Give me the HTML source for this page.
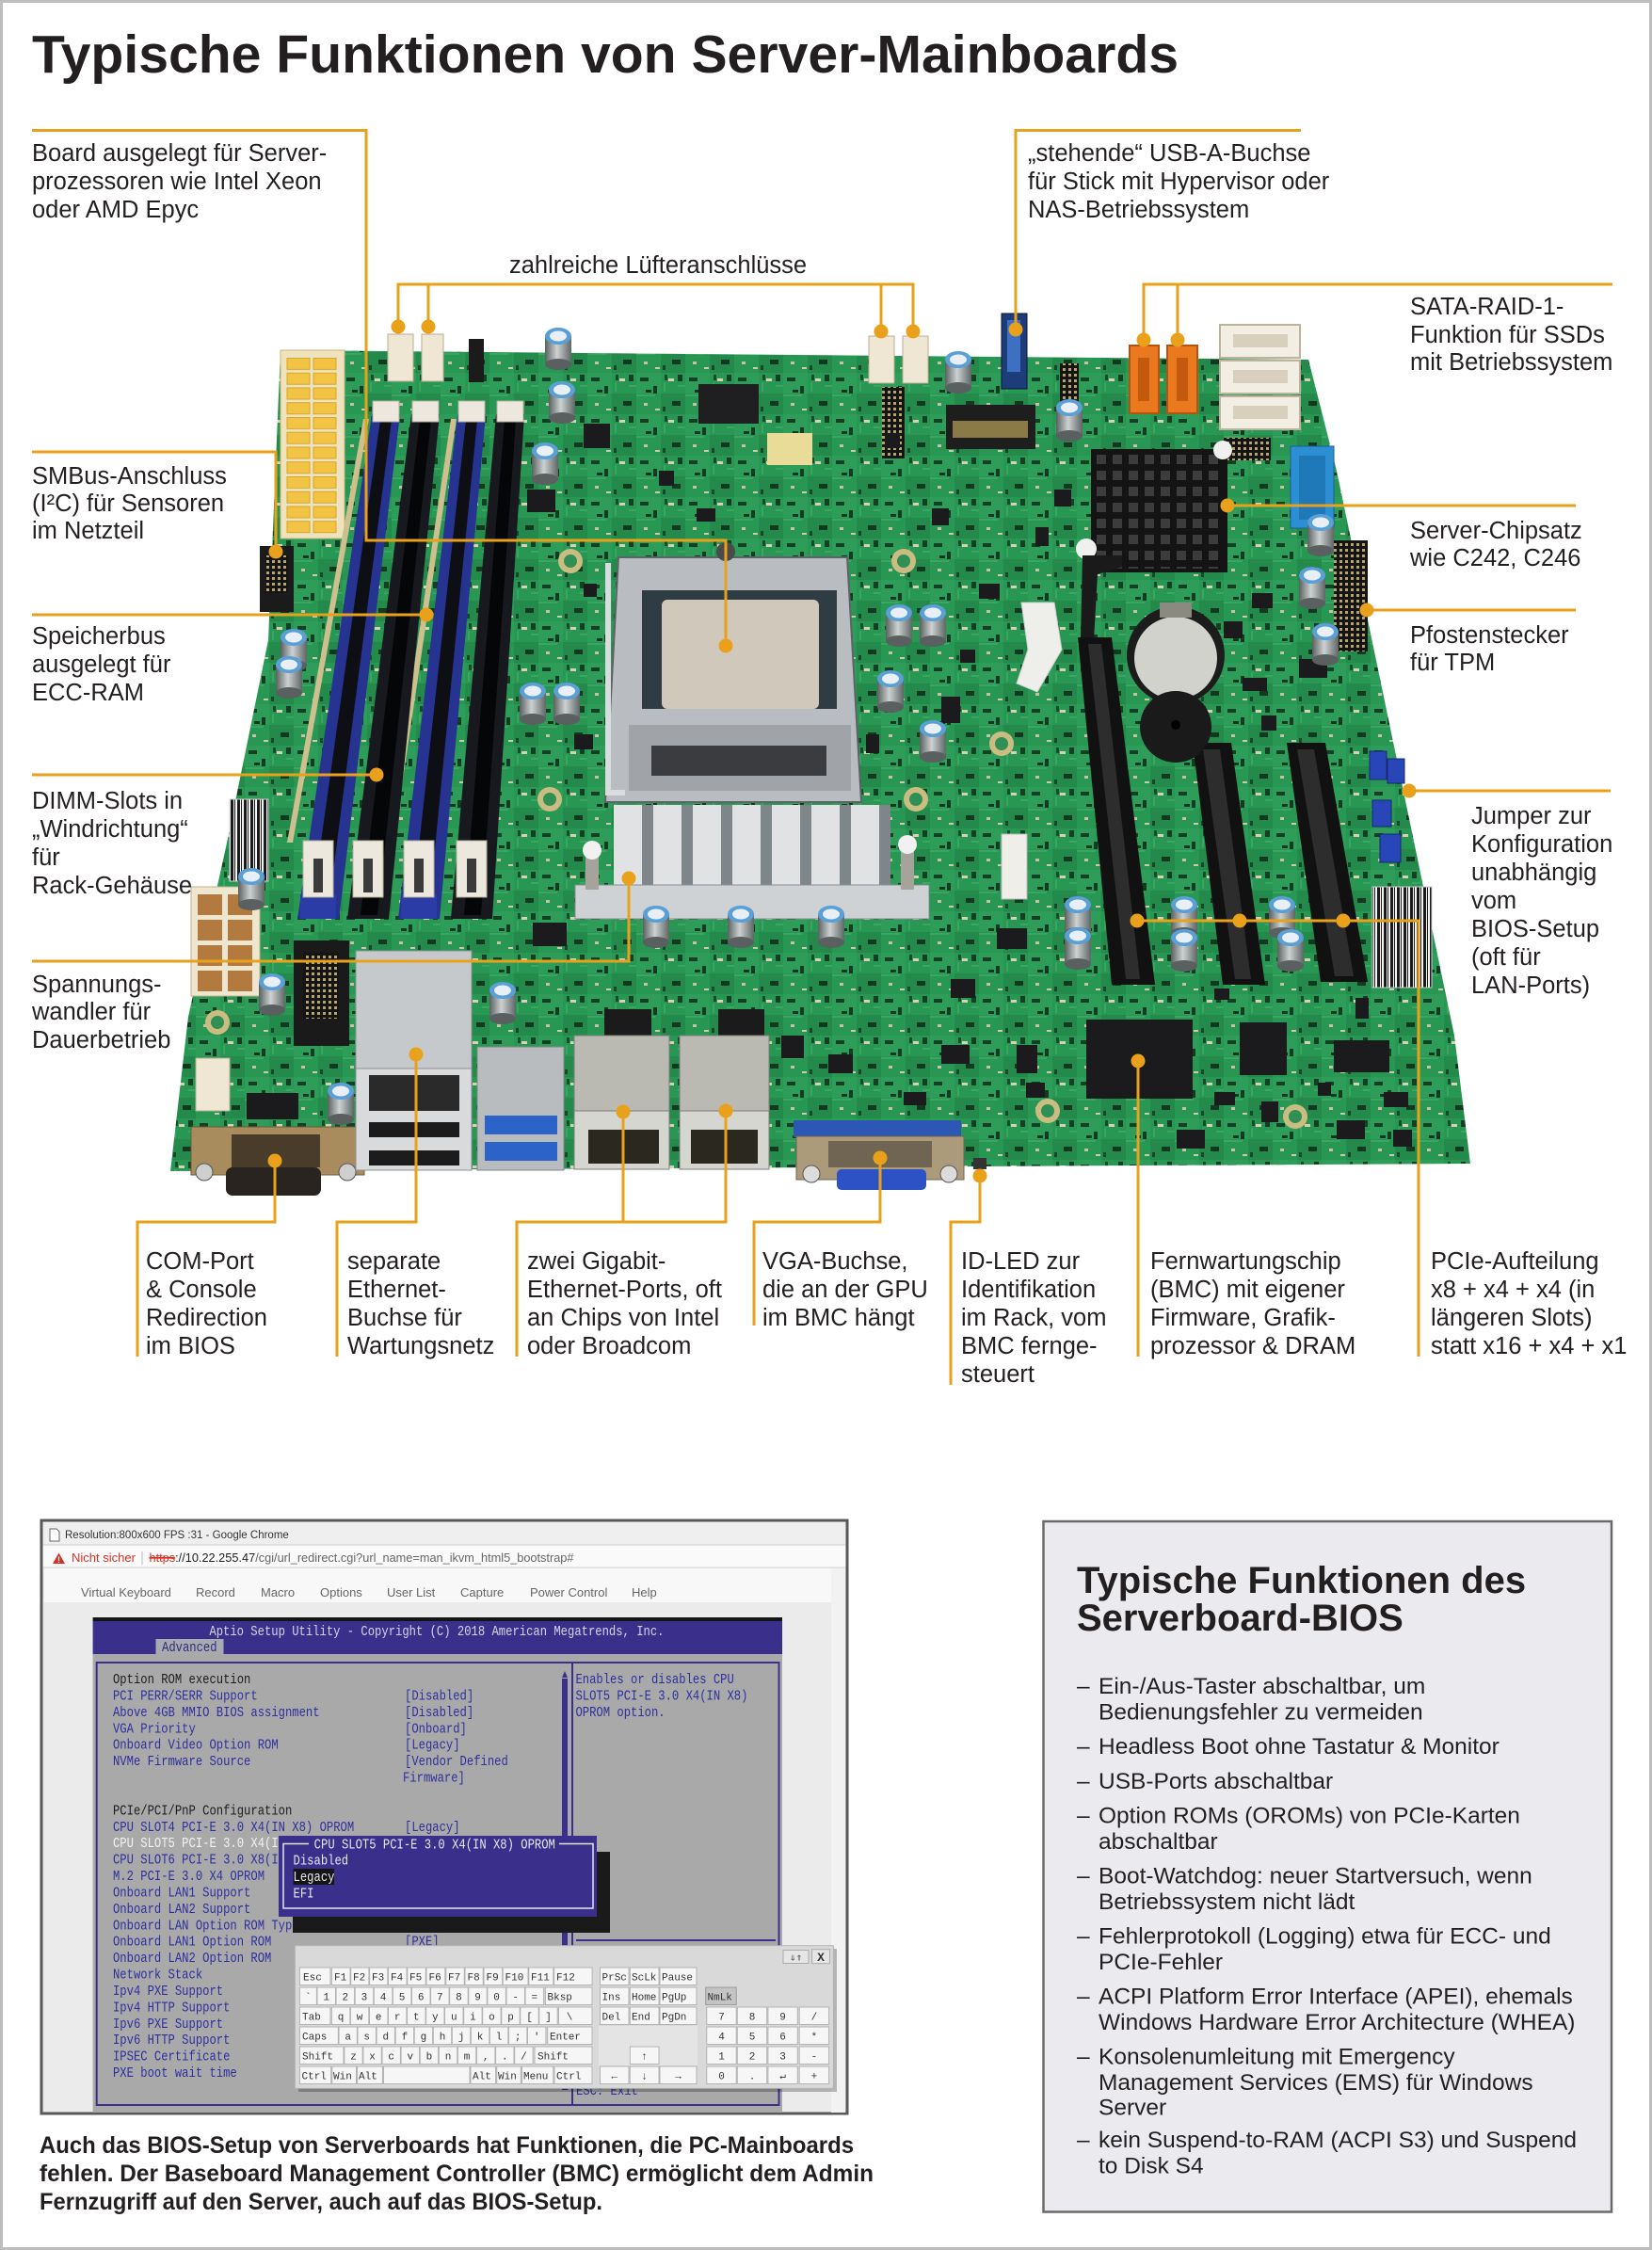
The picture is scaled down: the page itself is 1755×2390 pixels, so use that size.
<!DOCTYPE html>
<html lang="de"><head><meta charset="utf-8"><title>Typische Funktionen von Server-Mainboards</title>
<style>html,body{margin:0;padding:0;background:#fff}svg{display:block}</style></head>
<body>
<svg xmlns="http://www.w3.org/2000/svg" xmlns:xlink="http://www.w3.org/1999/xlink" width="1755" height="2390" viewBox="0 0 1755 2390">
<defs>
 <pattern id="pcb" x="0" y="0" width="52" height="44" patternUnits="userSpaceOnUse">
  <rect width="52" height="44" fill="#289753"/>
  <rect x="0" y="0" width="26" height="22" fill="#2d9d59"/>
  <rect x="26" y="22" width="26" height="22" fill="#238a4b"/>
  <rect x="4" y="5" width="9" height="4" fill="#143f24"/>
  <rect x="18" y="14" width="4" height="8" fill="#123b21"/>
  <rect x="34" y="6" width="6" height="3" fill="#d8cfb5"/>
  <rect x="38" y="30" width="9" height="5" fill="#12391f"/>
  <rect x="8" y="32" width="4" height="3" fill="#c8c0a8"/>
  <rect x="28" y="36" width="3" height="5" fill="#17462a"/>
  <rect x="44" y="2" width="5" height="7" fill="#153f25"/>
  <rect x="10" y="18" width="6" height="3" fill="#103820"/>
  <rect x="30" y="2" width="3" height="6" fill="#1a4a2c"/>
  <rect x="20" y="38" width="5" height="2" fill="#cfc7ad"/>
  <path d="M0,24 H20 M30,10 V20 M44,14 H52" stroke="#4cb472" stroke-width="1"/>
 </pattern>
 <pattern id="atx" x="304" y="379" width="28" height="15.75" patternUnits="userSpaceOnUse">
  <rect x="1" y="1.5" width="24" height="12" fill="#f3c443" stroke="#d5a52c" stroke-width="1"/>
 </pattern>
 <pattern id="fins" x="652" y="855" width="42" height="90" patternUnits="userSpaceOnUse">
  <rect x="0" y="0" width="30" height="90" fill="#e0e2e4"/>
  <rect x="30" y="0" width="12" height="90" fill="#7f868a"/>
 </pattern>
 <pattern id="hs" x="1163" y="481" width="17" height="17" patternUnits="userSpaceOnUse">
  <rect x="2" y="2" width="10" height="10" fill="#3c3c3c"/>
 </pattern>
 <pattern id="pins" x="0" y="0" width="6" height="6" patternUnits="userSpaceOnUse">
  <rect width="6" height="6" fill="#141414"/><rect x="1" y="1" width="3" height="3" fill="#b7a46a"/>
 </pattern>
 <pattern id="bar" x="0" y="0" width="7" height="4" patternUnits="userSpaceOnUse">
  <rect width="7" height="4" fill="#f4f4f4"/><rect x="0" y="0" width="3" height="4" fill="#1a1a1a"/><rect x="4" width="1" height="4" fill="#1a1a1a"/>
 </pattern>
 <linearGradient id="capg" x1="0" x2="1" y1="0" y2="0">
  <stop offset="0" stop-color="#59615f"/><stop offset="0.45" stop-color="#cdd1d1"/><stop offset="1" stop-color="#5e6666"/>
 </linearGradient>
 <g id="cap">
  <rect x="-14" y="9" width="28" height="30" fill="url(#capg)"/>
  <ellipse cx="0" cy="39" rx="14" ry="6" fill="#59605f"/>
  <ellipse cx="0" cy="9" rx="14" ry="9" fill="#5a9fd6"/>
  <ellipse cx="0" cy="9" rx="9" ry="5.5" fill="#e8eff7"/>
 </g>
 <g id="hole">
  <circle r="13" fill="#cbbd82"/><circle r="7" fill="#2f8f55"/>
 </g>
</defs>

<rect x="1.5" y="1.5" width="1752" height="2387" fill="#fff" stroke="#bdbdbd" stroke-width="3"/>

<text x="34" y="77" font-family="Liberation Sans, Arial, sans-serif" font-weight="bold" font-size="57" textLength="1218" lengthAdjust="spacingAndGlyphs" fill="#231f20">Typische Funktionen von Server-Mainboards</text>

<!-- ============ BOARD ============ -->
<g id="board">
 <polygon points="298,372 1390,382 1420,500 1545,1100 1562,1236 181,1244 200,1080 240,900 285,680" fill="url(#pcb)"/>
 <!-- mounting holes -->
 <use xlink:href="#hole" x="606" y="596"/><use xlink:href="#hole" x="960" y="596"/>
 <use xlink:href="#hole" x="584" y="849"/><use xlink:href="#hole" x="973" y="849"/>
 <use xlink:href="#hole" x="1113" y="1180"/><use xlink:href="#hole" x="1376" y="1186"/>
 <use xlink:href="#hole" x="231" y="1086"/><use xlink:href="#hole" x="1064" y="790"/>

 <!-- ATX 24 pin -->
 <rect x="298" y="372" width="68" height="200" fill="#efe3bd" stroke="#c8b47a"/>
 <rect x="304" y="379" width="56" height="189" fill="url(#atx)"/>

 <!-- fan headers / top connectors -->
 <rect x="412" y="355" width="27" height="50" fill="#efe7d3" stroke="#b9ad8f"/>
 <rect x="448" y="355" width="23" height="50" fill="#efe7d3" stroke="#b9ad8f"/>
 <rect x="923" y="357" width="27" height="50" fill="#efe7d3" stroke="#b9ad8f"/>
 <rect x="959" y="357" width="27" height="50" fill="#efe7d3" stroke="#b9ad8f"/>
 <rect x="498" y="360" width="16" height="46" fill="#1b1b1b"/>
 <rect x="937" y="411" width="24" height="76" fill="url(#pins)"/>
 <rect x="1064" y="333" width="27" height="80" fill="#1d3c7a" stroke="#0d1a33"/>
 <rect x="1070" y="340" width="14" height="55" fill="#3f6fc0"/>
 <rect x="1126" y="386" width="20" height="60" fill="url(#pins)"/>
 <rect x="742" y="408" width="64" height="42" fill="#1f1f21"/>
 <rect x="1005" y="430" width="95" height="47" fill="#1e1e1e"/>
 <rect x="1012" y="447" width="80" height="18" fill="#8a7a48"/>

 <!-- SATA -->
 <rect x="1296" y="345" width="85" height="35" fill="#f2eee3" stroke="#bdb39a" stroke-width="2"/>
 <rect x="1296" y="383" width="85" height="35" fill="#f2eee3" stroke="#bdb39a" stroke-width="2"/>
 <rect x="1296" y="421" width="85" height="35" fill="#f2eee3" stroke="#bdb39a" stroke-width="2"/>
 <rect x="1310" y="355" width="58" height="14" fill="#d8d0bc"/>
 <rect x="1310" y="393" width="58" height="14" fill="#d8d0bc"/>
 <rect x="1310" y="431" width="58" height="14" fill="#d8d0bc"/>
 <rect x="1200" y="367" width="31" height="72" fill="#ea781e" stroke="#b55410" stroke-width="2"/>
 <rect x="1240" y="367" width="32" height="72" fill="#ea781e" stroke="#b55410" stroke-width="2"/>
 <rect x="1209" y="380" width="12" height="46" fill="#c45a0e"/>
 <rect x="1250" y="380" width="12" height="46" fill="#c45a0e"/>
 <rect x="1300" y="465" width="50" height="24" fill="url(#pins)"/>
 <rect x="1371" y="474" width="46" height="87" fill="#2c8fd3" stroke="#1a5f95"/>
 <rect x="1380" y="484" width="28" height="68" fill="#1f78b8"/>

 <!-- chipset heatsink -->
 <rect x="1159" y="477" width="145" height="131" fill="#141414"/>
 <rect x="1163" y="481" width="137" height="123" fill="url(#hs)"/>
 <circle cx="1154" cy="583" r="11" fill="#f0f0ee"/>
 <circle cx="1299" cy="478" r="10" fill="#f0f0ee"/>

 <!-- DIMM slots -->
 <polygon points="386,445 392,445 311,895 305,895" fill="#cdbf8e"/>
 <polygon points="479,445 485,445 418,895 412,895" fill="#cdbf8e"/>
 <polygon points="395,440 425,440 360,976 316,976" fill="#263390"/>
 <polygon points="404,446 416,446 348,972 330,972" fill="#0d0f14"/>
 <polygon points="437,440 467,440 413,976 369,976" fill="#17191e"/>
 <polygon points="446,446 458,446 401,972 383,972" fill="#050608"/>
 <polygon points="486,440 516,440 467,976 423,976" fill="#263390"/>
 <polygon points="495,446 507,446 455,972 437,972" fill="#0d0f14"/>
 <polygon points="527,440 557,440 523,976 479,976" fill="#17191e"/>
 <polygon points="536,446 548,446 511,972 493,972" fill="#050608"/>
 <g fill="#ece8de" stroke="#b8b09e">
  <rect x="396" y="426" width="28" height="22"/><rect x="438" y="426" width="28" height="22"/>
  <rect x="487" y="426" width="28" height="22"/><rect x="528" y="426" width="28" height="22"/>
 </g>
 <rect x="319" y="950" width="38" height="26" fill="#2b3ca6"/>
 <rect x="426" y="950" width="38" height="26" fill="#2b3ca6"/>
 <g fill="#ece8de" stroke="#b8b09e">
  <rect x="322" y="893" width="32" height="60"/><rect x="375" y="893" width="32" height="60"/>
  <rect x="429" y="893" width="32" height="60"/><rect x="485" y="893" width="32" height="60"/>
 </g>
 <g fill="#3a3a3a">
  <rect x="333" y="912" width="10" height="36"/><rect x="386" y="912" width="10" height="36"/>
  <rect x="440" y="912" width="10" height="36"/><rect x="496" y="912" width="10" height="36"/>
 </g>

 <!-- left side parts -->
 <rect x="276" y="580" width="36" height="70" fill="#1b1b1b"/>
 <rect x="282" y="590" width="24" height="40" fill="url(#pins)"/>
 <rect x="244" y="849" width="41" height="87" fill="url(#bar)" stroke="#ccc"/>
 <rect x="203" y="942" width="73" height="116" fill="#efe6d0" stroke="#bfae8c"/>
 <g fill="#b27a3e"><rect x="210" y="950" width="26" height="22"/><rect x="242" y="950" width="26" height="22"/>
 <rect x="210" y="977" width="26" height="22"/><rect x="242" y="977" width="26" height="22"/>
 <rect x="210" y="1004" width="26" height="22"/><rect x="242" y="1004" width="26" height="22"/>
 <rect x="210" y="1031" width="26" height="22"/><rect x="242" y="1031" width="26" height="22"/></g>
 <rect x="312" y="999" width="59" height="112" fill="#1a1a1a"/>
 <rect x="322" y="1012" width="38" height="70" fill="url(#pins)"/>
 <rect x="208" y="1124" width="36" height="56" fill="#efe7d3" stroke="#b9ad8f"/>

 <!-- CPU socket -->
 <path d="M657,592 L900,592 L915,852 L643,852 Z" fill="#b9bdc1" stroke="#5f6368" stroke-width="2"/>
 <rect x="682" y="627" width="207" height="126" fill="#2f3c43"/>
 <rect x="703" y="637" width="167" height="116" rx="6" fill="#d0c9bb"/>
 <rect x="668" y="770" width="236" height="70" fill="#a0a4a8"/>
 <rect x="692" y="792" width="186" height="32" fill="#3a3c40"/>
 <path d="M646,598 V842 H664" fill="none" stroke="#d9dcdf" stroke-width="6"/>
 <circle cx="771" cy="586" r="10" fill="#4a4a4a"/>

 <!-- VRM heatsink -->
 <rect x="652" y="855" width="294" height="88" fill="url(#fins)"/>
 <rect x="611" y="940" width="376" height="36" fill="#cfd2d5" stroke="#8a8e92"/>
 <rect x="622" y="905" width="14" height="40" fill="#a6a39a"/><circle cx="629" cy="903" r="10" fill="#f1f1f1"/>
 <rect x="957" y="900" width="14" height="45" fill="#a6a39a"/><circle cx="964" cy="897" r="10" fill="#f1f1f1"/>

 <!-- white plastic parts -->
 <path d="M1085,640 L1120,640 L1128,690 L1102,735 L1080,726 L1092,690 Z" fill="#eeeeea" stroke="#cfcfc8"/>
 <rect x="1064" y="886" width="27" height="69" fill="#efeee8" stroke="#bbb"/>

 <!-- PCIe slots -->
 <path d="M1150,590 L1192,590 L1192,602 L1166,610 L1162,680 L1148,680 Z" fill="#1a1a1a"/>
 <polygon points="1145,677 1181,677 1227,1046 1181,1046" fill="#111"/>
 <polygon points="1156,684 1170,684 1211,1040 1196,1040" fill="#2d2d2d"/>
 <polygon points="1267,789 1308,789 1344,1046 1299,1046" fill="#111"/>
 <polygon points="1278,796 1296,796 1329,1040 1312,1040" fill="#2d2d2d"/>
 <polygon points="1367,789 1408,789 1453,1043 1403,1043" fill="#111"/>
 <polygon points="1378,796 1396,796 1438,1037 1418,1037" fill="#2d2d2d"/>

 <!-- battery & buzzer -->
 <circle cx="1249" cy="696" r="52" fill="#1c1c1c"/>
 <circle cx="1249" cy="699" r="44" fill="#d2d2cc"/>
 <rect x="1232" y="640" width="34" height="16" fill="#8a8a80"/>
 <circle cx="1249" cy="772" r="38" fill="#1a1a1a"/>
 <circle cx="1249" cy="770" r="5" fill="#000"/>

 <!-- right side -->
 <rect x="1417" y="574" width="36" height="118" fill="url(#pins)"/>
 <g fill="#2946b8" stroke="#17286e">
  <rect x="1455" y="798" width="18" height="30"/><rect x="1474" y="806" width="18" height="26"/>
  <rect x="1458" y="850" width="20" height="28"/><rect x="1466" y="886" width="22" height="30"/>
 </g>
 <rect x="1458" y="942" width="63" height="107" fill="url(#bar)" stroke="#ccc"/>

 <!-- small chips -->
 <g fill="#1b1b1d">
  <rect x="566" y="980" width="36" height="25"/><rect x="1059" y="986" width="32" height="22"/>
  <rect x="1317" y="1086" width="50" height="56"/><rect x="1417" y="1105" width="59" height="34"/>
  <rect x="262" y="1161" width="55" height="28"/><rect x="1000" y="740" width="20" height="28"/>
  <rect x="1300" y="660" width="20" height="18"/><rect x="1380" y="700" width="30" height="20"/>
  <rect x="830" y="1100" width="24" height="24"/><rect x="880" y="1120" width="26" height="20"/>
  <rect x="1000" y="1110" width="30" height="20"/><rect x="1080" y="1110" width="22" height="30"/>
  <rect x="1250" y="1200" width="30" height="20"/><rect x="1420" y="1190" width="30" height="20"/>
  <rect x="940" y="460" width="16" height="16"/><rect x="700" y="500" width="16" height="16"/>
  <rect x="620" y="450" width="28" height="26"/><rect x="560" y="520" width="30" height="24"/>
  <rect x="1120" y="520" width="18" height="18"/><rect x="1330" y="630" width="22" height="16"/>
  <rect x="740" y="540" width="20" height="14"/><rect x="990" y="540" width="18" height="18"/>
  <rect x="1040" y="620" width="22" height="16"/><rect x="1010" y="1040" width="26" height="20"/>
  <rect x="1290" y="1160" width="22" height="14"/><rect x="1340" y="1170" width="18" height="22"/>
  <rect x="1470" y="1160" width="26" height="16"/><rect x="1400" y="1150" width="14" height="14"/>
  <rect x="1290" y="1050" width="16" height="12"/><rect x="1480" y="1200" width="20" height="18"/>
  <rect x="1440" y="1060" width="14" height="22"/><rect x="1320" y="720" width="26" height="14"/>
  <rect x="1340" y="760" width="16" height="16"/><rect x="1090" y="1150" width="20" height="16"/>
  <rect x="960" y="1160" width="24" height="14"/><rect x="1100" y="560" width="14" height="20"/>
  <rect x="620" y="620" width="14" height="14"/><rect x="610" y="780" width="20" height="16"/>
  <rect x="920" y="780" width="14" height="20"/><rect x="1020" y="690" width="16" height="14"/>
 </g>
 <rect x="815" y="460" width="48" height="34" fill="#e8dc98"/>
 <rect x="1154" y="1083" width="113" height="84" fill="#1b1b1d"/>

 <!-- capacitors -->
 <use xlink:href="#cap" x="593" y="348"/><use xlink:href="#cap" x="597" y="405"/>
 <use xlink:href="#cap" x="579" y="470"/><use xlink:href="#cap" x="312" y="668"/>
 <use xlink:href="#cap" x="307" y="697"/><use xlink:href="#cap" x="566" y="725"/>
 <use xlink:href="#cap" x="602" y="725"/><use xlink:href="#cap" x="955" y="642"/>
 <use xlink:href="#cap" x="991" y="642"/><use xlink:href="#cap" x="946" y="712"/>
 <use xlink:href="#cap" x="991" y="765"/><use xlink:href="#cap" x="1018" y="373"/>
 <use xlink:href="#cap" x="1136" y="424"/><use xlink:href="#cap" x="1403" y="546"/>
 <use xlink:href="#cap" x="1394" y="602"/><use xlink:href="#cap" x="1408" y="662"/>
 <use xlink:href="#cap" x="1145" y="952"/><use xlink:href="#cap" x="1145" y="985"/>
 <use xlink:href="#cap" x="1258" y="952"/><use xlink:href="#cap" x="1258" y="987"/>
 <use xlink:href="#cap" x="1362" y="952"/><use xlink:href="#cap" x="1371" y="987"/>
 <use xlink:href="#cap" x="289" y="1034"/><use xlink:href="#cap" x="534" y="1043"/>
 <use xlink:href="#cap" x="362" y="1150"/><use xlink:href="#cap" x="697" y="962"/>
 <use xlink:href="#cap" x="787" y="962"/><use xlink:href="#cap" x="883" y="962"/>
 <use xlink:href="#cap" x="267" y="922"/>

 <!-- I/O -->
 <rect x="642" y="1072" width="50" height="30" fill="#1b1b1b"/>
 <rect x="763" y="1072" width="49" height="30" fill="#1b1b1b"/>
 <!-- COM -->
 <rect x="203" y="1197" width="184" height="51" fill="#a88c5d" stroke="#6e5a38"/>
 <rect x="246" y="1205" width="94" height="35" fill="#4a3c2b"/>
 <rect x="240" y="1240" width="101" height="30" rx="7" fill="#2a2420"/>
 <circle cx="217" cy="1245" r="9" fill="#cfcfcf" stroke="#555"/>
 <circle cx="369" cy="1245" r="9" fill="#cfcfcf" stroke="#555"/>
 <!-- IPMI LAN + USB -->
 <rect x="378" y="1010" width="123" height="125" fill="#c6c9cb" stroke="#8d9194"/>
 <rect x="378" y="1135" width="123" height="108" fill="#d8dadc" stroke="#8d9194"/>
 <rect x="392" y="1142" width="96" height="38" fill="#2a2a2a"/>
 <rect x="392" y="1192" width="96" height="16" fill="#1c1c1c"/>
 <rect x="392" y="1222" width="96" height="16" fill="#1c1c1c"/>
 <!-- USB3 -->
 <rect x="507" y="1112" width="92" height="131" fill="#b9bcbf" stroke="#80868a"/>
 <rect x="515" y="1185" width="77" height="20" fill="#2b63c9"/>
 <rect x="515" y="1213" width="77" height="20" fill="#2b63c9"/>
 <!-- LAN -->
 <rect x="610" y="1100" width="101" height="80" fill="#babab3" stroke="#7f7f78"/>
 <rect x="610" y="1180" width="101" height="62" fill="#d6d6d0" stroke="#7f7f78"/>
 <rect x="625" y="1200" width="75" height="36" fill="#2b2820"/>
 <rect x="722" y="1100" width="95" height="80" fill="#babab3" stroke="#7f7f78"/>
 <rect x="722" y="1180" width="95" height="62" fill="#d6d6d0" stroke="#7f7f78"/>
 <rect x="734" y="1200" width="71" height="36" fill="#2b2820"/>
 <!-- VGA -->
 <rect x="843" y="1190" width="178" height="18" fill="#2c57b5"/>
 <rect x="846" y="1207" width="178" height="46" fill="#ab9b7b" stroke="#6e6350"/>
 <rect x="880" y="1212" width="110" height="28" fill="#6f6552"/>
 <rect x="889" y="1242" width="95" height="22" rx="5" fill="#2d52c6"/>
 <circle cx="862" cy="1247" r="9" fill="#dcdcdc" stroke="#555"/>
 <circle cx="1008" cy="1247" r="9" fill="#dcdcdc" stroke="#555"/>
 <rect x="1034" y="1230" width="14" height="12" fill="#333"/>
</g>

<!-- ============ CALLOUTS ============ -->
<g fill="none" stroke="#e9a11b" stroke-width="3">
 <path d="M34,138.5 H389 V574 H771 V686"/>
 <path d="M423,347 V302 H970 V352 M455,302 V347 M936,302 V352"/>
 <path d="M1382,138.5 H1079 V350"/>
 <path d="M1713,302 H1215 V361 M1251,302 V361"/>
 <path d="M34,480 H293 V586"/>
 <path d="M34,653 H453"/>
 <path d="M34,823 H400"/>
 <path d="M34,1021 H668 V933"/>
 <path d="M1674,537 H1304"/>
 <path d="M1674,648 H1452"/>
 <path d="M1711,840 H1497"/>
 <path d="M1208,978 H1507 V1441"/>
 <path d="M292,1233 V1298 H146 V1441"/>
 <path d="M442,1120 V1298 H358 V1441"/>
 <path d="M662,1181 V1298 M771,1180 V1298 H549 V1441"/>
 <path d="M935,1230 V1298 H801 V1408"/>
 <path d="M1041,1249 V1298 H1010 V1471"/>
 <path d="M1209,1127 V1441"/>
</g>
<g fill="#e9a11b">
 <circle cx="771" cy="686" r="7.5"/>
 <circle cx="423" cy="347" r="7.5"/><circle cx="455" cy="347" r="7.5"/>
 <circle cx="936" cy="352" r="7.5"/><circle cx="970" cy="352" r="7.5"/>
 <circle cx="1079" cy="350" r="7.5"/>
 <circle cx="1215" cy="361" r="7.5"/><circle cx="1251" cy="361" r="7.5"/>
 <circle cx="293" cy="586" r="7.5"/>
 <circle cx="453" cy="653" r="7.5"/>
 <circle cx="400" cy="823" r="7.5"/>
 <circle cx="668" cy="933" r="7.5"/>
 <circle cx="1304" cy="537" r="7.5"/>
 <circle cx="1452" cy="648" r="7.5"/>
 <circle cx="1497" cy="840" r="7.5"/>
 <circle cx="1208" cy="978" r="7.5"/><circle cx="1317" cy="978" r="7.5"/><circle cx="1427" cy="978" r="7.5"/>
 <circle cx="292" cy="1233" r="7.5"/>
 <circle cx="442" cy="1120" r="7.5"/>
 <circle cx="662" cy="1181" r="7.5"/><circle cx="771" cy="1180" r="7.5"/>
 <circle cx="935" cy="1230" r="7.5"/>
 <circle cx="1041" cy="1249" r="7.5"/>
 <circle cx="1209" cy="1127" r="7.5"/>
</g>

<!-- ============ LABELS ============ -->
<g font-family="Liberation Sans, Arial, sans-serif" font-size="25.5" fill="#231f20">
 <text x="34" y="171">Board ausgelegt für Server-</text>
 <text x="34" y="201">prozessoren wie Intel Xeon</text>
 <text x="34" y="231">oder AMD Epyc</text>

 <text x="541" y="290">zahlreiche Lüfteranschlüsse</text>

 <text x="1092" y="171">„stehende“ USB-A-Buchse</text>
 <text x="1092" y="201">für Stick mit Hypervisor oder</text>
 <text x="1092" y="231">NAS-Betriebssystem</text>

 <text x="1498" y="334">SATA-RAID-1-</text>
 <text x="1498" y="364">Funktion für SSDs</text>
 <text x="1498" y="393">mit Betriebssystem</text>

 <text x="34" y="514">SMBus-Anschluss</text>
 <text x="34" y="543">(I²C) für Sensoren</text>
 <text x="34" y="572">im Netzteil</text>

 <text x="1498" y="572">Server-Chipsatz</text>
 <text x="1498" y="601">wie C242, C246</text>

 <text x="34" y="684">Speicherbus</text>
 <text x="34" y="714">ausgelegt für</text>
 <text x="34" y="744">ECC-RAM</text>

 <text x="1498" y="683">Pfostenstecker</text>
 <text x="1498" y="712">für TPM</text>

 <text x="34" y="859">DIMM-Slots in</text>
 <text x="34" y="889">„Windrichtung“</text>
 <text x="34" y="919">für</text>
 <text x="34" y="949">Rack-Gehäuse</text>

 <text x="1563" y="875">Jumper zur</text>
 <text x="1563" y="905">Konfiguration</text>
 <text x="1563" y="935">unabhängig</text>
 <text x="1563" y="965">vom</text>
 <text x="1563" y="995">BIOS-Setup</text>
 <text x="1563" y="1025">(oft für</text>
 <text x="1563" y="1055">LAN-Ports)</text>

 <text x="34" y="1054">Spannungs-</text>
 <text x="34" y="1083">wandler für</text>
 <text x="34" y="1113">Dauerbetrieb</text>

 <text x="155" y="1348">COM-Port</text>
 <text x="155" y="1378">&amp; Console</text>
 <text x="155" y="1408">Redirection</text>
 <text x="155" y="1438">im BIOS</text>

 <text x="369" y="1348">separate</text>
 <text x="369" y="1378">Ethernet-</text>
 <text x="369" y="1408">Buchse für</text>
 <text x="369" y="1438">Wartungsnetz</text>

 <text x="560" y="1348">zwei Gigabit-</text>
 <text x="560" y="1378">Ethernet-Ports, oft</text>
 <text x="560" y="1408">an Chips von Intel</text>
 <text x="560" y="1438">oder Broadcom</text>

 <text x="810" y="1348">VGA-Buchse,</text>
 <text x="810" y="1378">die an der GPU</text>
 <text x="810" y="1408">im BMC hängt</text>

 <text x="1021" y="1348">ID-LED zur</text>
 <text x="1021" y="1378">Identifikation</text>
 <text x="1021" y="1408">im Rack, vom</text>
 <text x="1021" y="1438">BMC fernge-</text>
 <text x="1021" y="1468">steuert</text>

 <text x="1222" y="1348">Fernwartungschip</text>
 <text x="1222" y="1378">(BMC) mit eigener</text>
 <text x="1222" y="1408">Firmware, Grafik-</text>
 <text x="1222" y="1438">prozessor &amp; DRAM</text>

 <text x="1520" y="1348">PCIe-Aufteilung</text>
 <text x="1520" y="1378">x8 + x4 + x4 (in</text>
 <text x="1520" y="1408">längeren Slots)</text>
 <text x="1520" y="1438">statt x16 + x4 + x1</text>
</g>

<!-- ============ BIOS SCREENSHOT ============ -->
<g>
 <rect x="44" y="1615" width="856" height="630" fill="#ebebeb" stroke="#595959" stroke-width="3"/>
 <rect x="45.5" y="1616.5" width="853" height="24.5" fill="#efefef"/>
 <path d="M45.5,1641 H898.5" stroke="#cfcfcf"/>
 <path d="M53,1624 h7 l3,3 v10 h-10 z" fill="#fff" stroke="#666" stroke-width="1"/>
 <text x="69" y="1634" font-family="Liberation Sans, Arial, sans-serif" font-size="11.5" fill="#333">Resolution:800x600 FPS :31 - Google Chrome</text>
 <rect x="45.5" y="1641.5" width="853" height="23.5" fill="#fafafa"/>
 <path d="M45.5,1665 H898.5" stroke="#d4d4d4"/>
 <polygon points="56,1661 62.5,1649.5 69,1661" fill="#d93025"/>
 <text x="62.5" y="1660" font-family="Liberation Sans, Arial, sans-serif" font-size="9" font-weight="bold" fill="#fff" text-anchor="middle">!</text>
 <text x="76" y="1659" font-family="Liberation Sans, Arial, sans-serif" font-size="13" fill="#d93025">Nicht sicher</text>
 <path d="M151,1648 V1662" stroke="#bbb"/>
 <text x="158.5" y="1659" font-family="Liberation Sans, Arial, sans-serif" font-size="13" textLength="451" lengthAdjust="spacingAndGlyphs"><tspan fill="#d93025" text-decoration="line-through">https</tspan><tspan fill="#222">://10.22.255.47</tspan><tspan fill="#666">/cgi/url_redirect.cgi?url_name=man_ikvm_html5_bootstrap#</tspan></text>
 <path d="M158.5,1654.5 H185" stroke="#d93025" stroke-width="1"/>
 <rect x="47" y="1666" width="836" height="36" fill="#f8f8f8"/>
 <rect x="883" y="1666" width="15" height="578" fill="#f2f2f2"/>
 <g font-family="Liberation Sans, Arial, sans-serif" font-size="13" fill="#666">
  <text x="86" y="1696">Virtual Keyboard</text>
  <text x="208" y="1696">Record</text>
  <text x="277" y="1696">Macro</text>
  <text x="340" y="1696">Options</text>
  <text x="411" y="1696">User List</text>
  <text x="489" y="1696">Capture</text>
  <text x="563" y="1696">Power Control</text>
  <text x="671" y="1696">Help</text>
 </g>

 <!-- BIOS screen -->
 <rect x="98.6" y="1718" width="732.4" height="4" fill="#151515"/>
 <rect x="98.6" y="1722" width="732.4" height="35" fill="#3b2f8c"/>
 <rect x="165.5" y="1741" width="72" height="16" fill="#a9a9b2"/>
 <rect x="98.6" y="1757" width="732.4" height="487" fill="#a9a9a9"/>
 <rect x="102.7" y="1766" width="505.3" height="470" fill="none" stroke="#3b2f8c" stroke-width="2"/>
 <rect x="608" y="1766" width="219.5" height="470" fill="none" stroke="#3b2f8c" stroke-width="2"/>
 <path d="M612,2061 H824" stroke="#3b2f8c" stroke-width="2"/>
 <rect x="597" y="1783" width="6" height="437" fill="#3b2f8c"/>
 <polygon points="597,1782 603,1782 600,1775" fill="#3b2f8c"/>

 <g font-family="Liberation Mono, DejaVu Sans Mono, monospace" font-size="14.5" transform="scale(0.842,1)">
  <text x="551" y="1737" fill="#d6d6e6" text-anchor="middle">Aptio Setup Utility - Copyright (C) 2018 American Megatrends, Inc.</text>
  <text x="204.3" y="1754" fill="#2e2e72">Advanced</text>
  <text x="142.5" y="1788" fill="#1c1c1c">Option ROM execution</text>
  <g fill="#2e2e9e">
   <text x="142.5" y="1805.4">PCI PERR/SERR Support</text>
   <text x="142.5" y="1822.8">Above 4GB MMIO BIOS assignment</text>
   <text x="142.5" y="1840.3">VGA Priority</text>
   <text x="142.5" y="1857.7">Onboard Video Option ROM</text>
   <text x="142.5" y="1875.1">NVMe Firmware Source</text>
   <text x="510.7" y="1805.4">[Disabled]</text>
   <text x="510.7" y="1822.8">[Disabled]</text>
   <text x="510.7" y="1840.3">[Onboard]</text>
   <text x="510.7" y="1857.7">[Legacy]</text>
   <text x="510.7" y="1875.1">[Vendor Defined</text>
   <text x="508.3" y="1892.5">Firmware]</text>
   <text x="142.5" y="1944.8">CPU SLOT4 PCI-E 3.0 X4(IN X8) OPROM</text>
   <text x="510.7" y="1944.8">[Legacy]</text>
   <text x="142.5" y="1979.6">CPU SLOT6 PCI-E 3.0 X8(I</text>
   <text x="142.5" y="1997.0">M.2 PCI-E 3.0 X4 OPROM</text>
   <text x="142.5" y="2014.5">Onboard LAN1 Support</text>
   <text x="142.5" y="2031.9">Onboard LAN2 Support</text>
   <text x="142.5" y="2049.3">Onboard LAN Option ROM Typ</text>
   <text x="142.5" y="2066.7">Onboard LAN1 Option ROM</text>
   <text x="510.7" y="2066.7">[PXE]</text>
   <text x="142.5" y="2084.1">Onboard LAN2 Option ROM</text>
   <text x="142.5" y="2101.6">Network Stack</text>
   <text x="142.5" y="2119.0">Ipv4 PXE Support</text>
   <text x="142.5" y="2136.4">Ipv4 HTTP Support</text>
   <text x="142.5" y="2153.8">Ipv6 PXE Support</text>
   <text x="142.5" y="2171.2">Ipv6 HTTP Support</text>
   <text x="142.5" y="2188.7">IPSEC Certificate</text>
   <text x="142.5" y="2206.1">PXE boot wait time</text>
   <text x="726.2" y="1788">Enables or disables CPU</text>
   <text x="726.2" y="1805.4">SLOT5 PCI-E 3.0 X4(IN X8)</text>
   <text x="726.2" y="1822.8">OPROM option.</text>
   <text x="726.8" y="2225">ESC: Exit</text>
  </g>
  <text x="142.5" y="1927.4" fill="#1c1c1c">PCIe/PCI/PnP Configuration</text>
  <text x="142.5" y="1962.2" fill="#f2f2f2">CPU SLOT5 PCI-E 3.0 X4(I</text>
 </g>

 <!-- popup -->
 <rect x="311" y="1967" width="337" height="86" fill="#1a1a1a"/>
 <rect x="296" y="1950" width="338" height="86" fill="#3b2f8c"/>
 <rect x="301" y="1958.5" width="329" height="68.5" fill="none" stroke="#e6e6ee" stroke-width="1.5"/>
 <rect x="328" y="1952" width="266" height="14" fill="#3b2f8c"/>
 <rect x="311.5" y="1985" width="43.5" height="17" fill="#151515"/>
 <g font-family="Liberation Mono, DejaVu Sans Mono, monospace" font-size="14.5" fill="#e8e8f0" transform="scale(0.842,1)">
  <text x="396.3" y="1963.5">CPU SLOT5 PCI-E 3.0 X4(IN X8) OPROM</text>
  <text x="370" y="1980.5">Disabled</text>
  <text x="370" y="1998">Legacy</text>
  <text x="370" y="2015.5">EFI</text>
 </g>

 <!-- virtual keyboard -->
 <rect x="317" y="2070" width="572" height="152" fill="#000" opacity="0.25"/>
 <rect x="313.4" y="2066.7" width="572" height="151.6" fill="#d9d9d9" stroke="#b5b5b5"/>
 <rect x="636" y="2152" width="105" height="42" fill="#e4e4e4"/>
 <rect x="832" y="2071.5" width="27" height="14" fill="#e6e6e6" stroke="#aaa"/>
 <rect x="862.6" y="2070.7" width="19" height="15" fill="#e6e6e6" stroke="#aaa"/>
 <g font-family="Liberation Mono, DejaVu Sans Mono, monospace" font-size="11" fill="#333">
  <text x="845.5" y="2082.5" text-anchor="middle">⇓⇑</text>
  <text x="872" y="2083" text-anchor="middle" font-weight="bold" font-size="13">X</text>
 </g>
 <g fill="#f6f6f6" stroke="#b3b3b3" stroke-width="1">
  <rect x="318.4" y="2090" width="32.5" height="18.5"/><rect x="352.4" y="2090" width="19.6" height="18.5"/>
  <rect x="372.7" y="2090" width="19.2" height="18.5"/><rect x="392.6" y="2090" width="19.2" height="18.5"/>
  <rect x="412.5" y="2090" width="19.6" height="18.5"/><rect x="432.8" y="2090" width="19.5" height="18.5"/>
  <rect x="453" y="2090" width="19.8" height="18.5"/><rect x="473.8" y="2090" width="19.5" height="18.5"/>
  <rect x="494" y="2090" width="19.2" height="18.5"/><rect x="514" y="2090" width="19.6" height="18.5"/>
  <rect x="534.2" y="2090" width="26.8" height="18.5"/><rect x="561.8" y="2090" width="26" height="18.5"/>
  <rect x="588.6" y="2090" width="40.5" height="18.5"/>
  <rect x="637.5" y="2090" width="30.5" height="18.5"/><rect x="669.3" y="2090" width="30.7" height="18.5"/>
  <rect x="701" y="2090" width="39" height="18.5"/>
  <rect x="318.4" y="2111" width="18" height="18.5"/>
  <rect x="337" y="2111" width="19.5" height="18.5"/><rect x="357.1" y="2111" width="19.5" height="18.5"/>
  <rect x="377.2" y="2111" width="19.5" height="18.5"/><rect x="397.3" y="2111" width="19.5" height="18.5"/>
  <rect x="417.4" y="2111" width="19.5" height="18.5"/><rect x="437.5" y="2111" width="19.5" height="18.5"/>
  <rect x="457.6" y="2111" width="19.5" height="18.5"/><rect x="477.7" y="2111" width="19.5" height="18.5"/>
  <rect x="497.8" y="2111" width="19.5" height="18.5"/><rect x="517.9" y="2111" width="19.5" height="18.5"/>
  <rect x="538" y="2111" width="19.5" height="18.5"/><rect x="558.1" y="2111" width="19.5" height="18.5"/>
  <rect x="579.4" y="2111" width="49.6" height="18.5"/>
  <rect x="637.5" y="2111" width="30.5" height="18.5"/><rect x="669.3" y="2111" width="30.7" height="18.5"/>
  <rect x="701" y="2111" width="39" height="18.5"/>
  <rect x="318.4" y="2132" width="32.5" height="18.5"/>
  <rect x="352.4" y="2132" width="19.4" height="18.5"/><rect x="372.4" y="2132" width="19.4" height="18.5"/>
  <rect x="392.5" y="2132" width="19.4" height="18.5"/><rect x="412.5" y="2132" width="19.4" height="18.5"/>
  <rect x="432.6" y="2132" width="19.4" height="18.5"/><rect x="452.6" y="2132" width="19.4" height="18.5"/>
  <rect x="472.6" y="2132" width="19.4" height="18.5"/><rect x="492.7" y="2132" width="19.4" height="18.5"/>
  <rect x="512.7" y="2132" width="19.4" height="18.5"/><rect x="532.8" y="2132" width="19.4" height="18.5"/>
  <rect x="552.8" y="2132" width="19.4" height="18.5"/><rect x="572.8" y="2132" width="19.4" height="18.5"/>
  <rect x="593.5" y="2132" width="35.5" height="18.5"/>
  <rect x="637.5" y="2132" width="30.5" height="18.5"/><rect x="669.3" y="2132" width="30.7" height="18.5"/>
  <rect x="701" y="2132" width="39" height="18.5"/>
  <rect x="750.8" y="2132" width="31.4" height="18.5"/><rect x="783.3" y="2132" width="31.4" height="18.5"/>
  <rect x="815.9" y="2132" width="31.4" height="18.5"/><rect x="849.2" y="2132" width="31.4" height="18.5"/>
  <rect x="318.4" y="2153" width="40.9" height="18.5"/>
  <rect x="360" y="2153" width="19.4" height="18.5"/><rect x="380" y="2153" width="19.4" height="18.5"/>
  <rect x="400.1" y="2153" width="19.4" height="18.5"/><rect x="420.2" y="2153" width="19.4" height="18.5"/>
  <rect x="440.2" y="2153" width="19.4" height="18.5"/><rect x="460.3" y="2153" width="19.4" height="18.5"/>
  <rect x="480.3" y="2153" width="19.4" height="18.5"/><rect x="500.4" y="2153" width="19.4" height="18.5"/>
  <rect x="520.4" y="2153" width="19.4" height="18.5"/><rect x="540.5" y="2153" width="19.4" height="18.5"/>
  <rect x="560.5" y="2153" width="19.4" height="18.5"/>
  <rect x="581.7" y="2153" width="47.3" height="18.5"/>
  <rect x="750.8" y="2153" width="31.4" height="18.5"/><rect x="783.3" y="2153" width="31.4" height="18.5"/>
  <rect x="815.9" y="2153" width="31.4" height="18.5"/><rect x="849.2" y="2153" width="31.4" height="18.5"/>
  <rect x="318.4" y="2174" width="46.6" height="18.5"/>
  <rect x="365.8" y="2174" width="19.4" height="18.5"/><rect x="385.9" y="2174" width="19.4" height="18.5"/>
  <rect x="406" y="2174" width="19.4" height="18.5"/><rect x="426.1" y="2174" width="19.4" height="18.5"/>
  <rect x="446.2" y="2174" width="19.4" height="18.5"/><rect x="466.3" y="2174" width="19.4" height="18.5"/>
  <rect x="486.4" y="2174" width="19.4" height="18.5"/><rect x="506.5" y="2174" width="19.4" height="18.5"/>
  <rect x="526.6" y="2174" width="19.4" height="18.5"/><rect x="546.7" y="2174" width="19.4" height="18.5"/>
  <rect x="568" y="2174" width="61" height="18.5"/>
  <rect x="669.3" y="2174" width="30.7" height="18.5"/>
  <rect x="750.8" y="2174" width="31.4" height="18.5"/><rect x="783.3" y="2174" width="31.4" height="18.5"/>
  <rect x="815.9" y="2174" width="31.4" height="18.5"/><rect x="849.2" y="2174" width="31.4" height="18.5"/>
  <rect x="318.4" y="2195" width="33.3" height="18.5"/><rect x="352.8" y="2195" width="25.7" height="18.5"/>
  <rect x="379.6" y="2195" width="26.8" height="18.5"/><rect x="407.5" y="2195" width="91.5" height="18.5"/>
  <rect x="500" y="2195" width="26.6" height="18.5"/><rect x="527.7" y="2195" width="25.6" height="18.5"/>
  <rect x="554.5" y="2195" width="33.3" height="18.5"/><rect x="589" y="2195" width="40" height="18.5"/>
  <rect x="637.5" y="2195" width="30.5" height="18.5"/><rect x="669.3" y="2195" width="30.7" height="18.5"/>
  <rect x="701" y="2195" width="39" height="18.5"/>
  <rect x="750.8" y="2195" width="31.4" height="18.5"/><rect x="783.3" y="2195" width="31.4" height="18.5"/>
  <rect x="815.9" y="2195" width="31.4" height="18.5"/><rect x="849.2" y="2195" width="31.4" height="18.5"/>
 </g>
 <rect x="749.7" y="2111" width="32.5" height="18.5" fill="#c4c4c4" stroke="#9a9a9a"/>
 <g font-family="Liberation Mono, DejaVu Sans Mono, monospace" font-size="11" fill="#333">
  <text x="322" y="2103.5">Esc</text>
  <text x="355" y="2103.5">F1</text><text x="375" y="2103.5">F2</text><text x="395" y="2103.5">F3</text>
  <text x="415" y="2103.5">F4</text><text x="435" y="2103.5">F5</text><text x="455.5" y="2103.5">F6</text>
  <text x="476" y="2103.5">F7</text><text x="496.5" y="2103.5">F8</text><text x="516.5" y="2103.5">F9</text>
  <text x="536.5" y="2103.5">F10</text><text x="564" y="2103.5">F11</text><text x="591" y="2103.5">F12</text>
  <text x="639.5" y="2103.5">PrSc</text><text x="671" y="2103.5">ScLk</text><text x="703" y="2103.5">Pause</text>
  <text x="581.5" y="2124.5">Bksp</text>
  <text x="639.5" y="2124.5">Ins</text><text x="671" y="2124.5">Home</text><text x="703" y="2124.5">PgUp</text>
  <text x="751.5" y="2124.5">NmLk</text>
  <text x="321" y="2145.5">Tab</text>
  <text x="639.5" y="2145.5">Del</text><text x="671" y="2145.5">End</text><text x="703" y="2145.5">PgDn</text>
  <text x="321" y="2166.5">Caps</text>
  <text x="584" y="2166.5">Enter</text>
  <text x="321" y="2187.5">Shift</text>
  <text x="571" y="2187.5">Shift</text>
  <text x="320.5" y="2208.5">Ctrl</text><text x="354" y="2208.5">Win</text><text x="381" y="2208.5">Alt</text>
  <text x="502" y="2208.5">Alt</text><text x="529" y="2208.5">Win</text><text x="556" y="2208.5">Menu</text><text x="591" y="2208.5">Ctrl</text>
  <g text-anchor="middle">
   <text x="327.4" y="2124.5">`</text>
   <text x="346.7" y="2124.5">1</text><text x="366.8" y="2124.5">2</text><text x="386.9" y="2124.5">3</text>
   <text x="407" y="2124.5">4</text><text x="427.1" y="2124.5">5</text><text x="447.2" y="2124.5">6</text>
   <text x="467.3" y="2124.5">7</text><text x="487.4" y="2124.5">8</text><text x="507.5" y="2124.5">9</text>
   <text x="527.6" y="2124.5">0</text><text x="547.7" y="2124.5">-</text><text x="567.8" y="2124.5">=</text>
   <text x="362.1" y="2145.5">q</text><text x="382.1" y="2145.5">w</text><text x="402.2" y="2145.5">e</text>
   <text x="422.2" y="2145.5">r</text><text x="442.3" y="2145.5">t</text><text x="462.3" y="2145.5">y</text>
   <text x="482.3" y="2145.5">u</text><text x="502.4" y="2145.5">i</text><text x="522.4" y="2145.5">o</text>
   <text x="542.5" y="2145.5">p</text><text x="562.5" y="2145.5">[</text><text x="582.5" y="2145.5">]</text>
   <text x="605" y="2145.5">\</text>
   <text x="766.5" y="2145.5">7</text><text x="799" y="2145.5">8</text><text x="831.6" y="2145.5">9</text><text x="864.9" y="2145.5">/</text>
   <text x="369.7" y="2166.5">a</text><text x="389.7" y="2166.5">s</text><text x="409.8" y="2166.5">d</text>
   <text x="429.9" y="2166.5">f</text><text x="449.9" y="2166.5">g</text><text x="470" y="2166.5">h</text>
   <text x="490" y="2166.5">j</text><text x="510.1" y="2166.5">k</text><text x="530.1" y="2166.5">l</text>
   <text x="550.2" y="2166.5">;</text><text x="570.2" y="2166.5">'</text>
   <text x="766.5" y="2166.5">4</text><text x="799" y="2166.5">5</text><text x="831.6" y="2166.5">6</text><text x="864.9" y="2166.5">*</text>
   <text x="375.5" y="2187.5">z</text><text x="395.6" y="2187.5">x</text><text x="415.7" y="2187.5">c</text>
   <text x="435.8" y="2187.5">v</text><text x="455.9" y="2187.5">b</text><text x="476" y="2187.5">n</text>
   <text x="496.1" y="2187.5">m</text><text x="516.2" y="2187.5">,</text><text x="536.3" y="2187.5">.</text>
   <text x="556.4" y="2187.5">/</text>
   <text x="684.6" y="2187.5">↑</text>
   <text x="766.5" y="2187.5">1</text><text x="799" y="2187.5">2</text><text x="831.6" y="2187.5">3</text><text x="864.9" y="2187.5">-</text>
   <text x="652.7" y="2208.5">←</text><text x="684.6" y="2208.5">↓</text><text x="720.5" y="2208.5">→</text>
   <text x="766.5" y="2208.5">0</text><text x="799" y="2208.5">.</text><text x="831.6" y="2208.5">↵</text><text x="864.9" y="2208.5">+</text>
  </g>
 </g>
</g>

<!-- caption -->
<g font-family="Liberation Sans, Arial, sans-serif" font-weight="bold" font-size="25" fill="#231f20">
 <text x="42" y="2287" textLength="865" lengthAdjust="spacingAndGlyphs">Auch das BIOS-Setup von Serverboards hat Funktionen, die PC-Mainboards</text>
 <text x="42" y="2317" textLength="886" lengthAdjust="spacingAndGlyphs">fehlen. Der Baseboard Management Controller (BMC) ermöglicht dem Admin</text>
 <text x="42" y="2347" textLength="598" lengthAdjust="spacingAndGlyphs">Fernzugriff auf den Server, auch auf das BIOS-Setup.</text>
</g>

<!-- ============ RIGHT BOX ============ -->
<rect x="1108.5" y="1616" width="603.5" height="733.5" fill="#ebebef" stroke="#6a6a6a" stroke-width="2.5"/>
<g font-family="Liberation Sans, Arial, sans-serif" font-weight="bold" font-size="40" fill="#231f20">
 <text x="1144" y="1692">Typische Funktionen des</text>
 <text x="1144" y="1732">Serverboard-BIOS</text>
</g>
<g font-family="Liberation Sans, Arial, sans-serif" font-size="24.5" fill="#231f20">
 <text x="1144" y="1799">–</text><text x="1167" y="1799">Ein-/Aus-Taster abschaltbar, um</text>
 <text x="1167" y="1826.5">Bedienungsfehler zu vermeiden</text>
 <text x="1144" y="1863">–</text><text x="1167" y="1863">Headless Boot ohne Tastatur &amp; Monitor</text>
 <text x="1144" y="1900">–</text><text x="1167" y="1900">USB-Ports abschaltbar</text>
 <text x="1144" y="1936.5">–</text><text x="1167" y="1936.5">Option ROMs (OROMs) von PCIe-Karten</text>
 <text x="1167" y="1964">abschaltbar</text>
 <text x="1144" y="2000.5">–</text><text x="1167" y="2000.5">Boot-Watchdog: neuer Startversuch, wenn</text>
 <text x="1167" y="2028">Betriebssystem nicht lädt</text>
 <text x="1144" y="2064.5">–</text><text x="1167" y="2064.5">Fehlerprotokoll (Logging) etwa für ECC- und</text>
 <text x="1167" y="2092">PCIe-Fehler</text>
 <text x="1144" y="2128.5">–</text><text x="1167" y="2128.5">ACPI Platform Error Interface (APEI), ehemals</text>
 <text x="1167" y="2156">Windows Hardware Error Architecture (WHEA)</text>
 <text x="1144" y="2192.5">–</text><text x="1167" y="2192.5">Konsolenumleitung mit Emergency</text>
 <text x="1167" y="2220">Management Services (EMS) für Windows</text>
 <text x="1167" y="2246.5">Server</text>
 <text x="1144" y="2281">–</text><text x="1167" y="2281">kein Suspend-to-RAM (ACPI S3) und Suspend</text>
 <text x="1167" y="2308.5">to Disk S4</text>
</g>
</svg>
</body></html>
